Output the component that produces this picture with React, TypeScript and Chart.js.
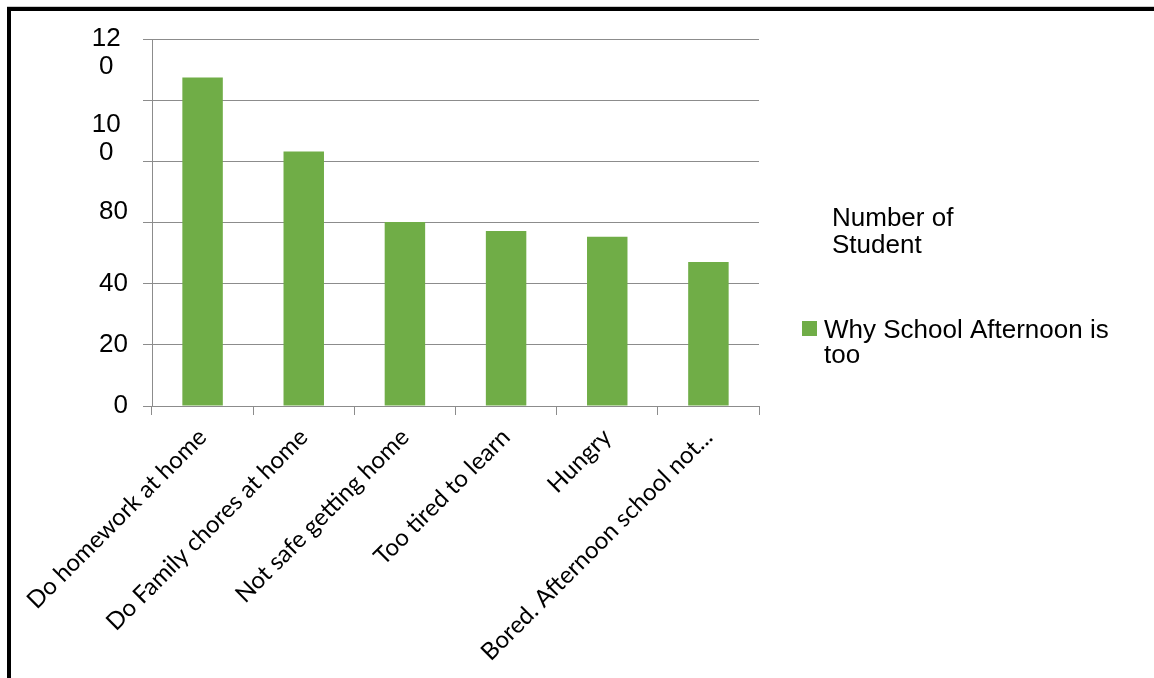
import React, { useEffect, useRef } from "react";
import { Chart, registerables } from "chart.js";

Chart.register(...registerables);

const categories = [
  "Do homework at home",
  "Do Family chores at home",
  "Not safe getting home",
  "Too tired to learn",
  "Hungry",
  "Bored. Afternoon school not...",
];
const seriesValues = [107.4, 83.2, 60.2, 57.2, 55.3, 47.1];
const seriesName = ["Why School Afternoon is", "too"];
const legendTitle = ["Number of", "Student"];

const yGridValues = [0, 20, 40, 60, 80, 100, 120];
const yLabelValues = [0, 20, 40, 63.5, 87.3, 115.5];
const yLabelTexts: (string | string[])[] = ["0", "20", "40", "80", ["10 ", "0  "], ["12 ", "0  "]];

const GREEN = "#70AD47";
const GRID = "#8c8c8c";

const sideLegend = {
  id: "sideLegend",
  afterDraw(chart: any) {
    const { ctx, chartArea } = chart;
    const r = chartArea.right;
    const t = chartArea.top;
    ctx.save();
    ctx.fillStyle = "#000";
    ctx.font = "26px 'Liberation Sans', Arial, sans-serif";
    ctx.textAlign = "left";
    ctx.textBaseline = "alphabetic";
    legendTitle.forEach((line, i) => {
      ctx.fillText(line, r + 73, t + 187 + i * 27);
    });
    ctx.fillStyle = GREEN;
    ctx.fillRect(r + 43, t + 282, 15, 15);
    ctx.fillStyle = "#000";
    seriesName.forEach((line, i) => {
      ctx.fillText(line, r + 65, t + 299 + i * 25);
    });
    ctx.restore();
  },
};

export default function App() {
  const ref = useRef<HTMLCanvasElement>(null);
  useEffect(() => {
    if (!ref.current) return;
    const chart = new Chart(ref.current, {
      type: "bar",
      data: {
        labels: categories,
        datasets: [
          {
            label: seriesName.join(" "),
            data: seriesValues,
            backgroundColor: GREEN,
            borderWidth: 0,
            categoryPercentage: 0.8,
            barPercentage: 0.5,
          },
        ],
      },
      options: {
        responsive: false,
        animation: false,
        layout: { padding: { left: 0, top: 39, right: 395, bottom: 0 } },
        plugins: { legend: { display: false }, tooltip: { enabled: false } },
        scales: {
          x: {
            afterFit: (scale: any) => {
              scale.height = 272;
            },
            grid: {
              display: true,
              drawOnChartArea: false,
              drawTicks: true,
              tickLength: 9,
              color: GRID,
              offset: true,
            },
            border: { display: true, color: GRID, width: 1 },
            ticks: {
              minRotation: 45,
              maxRotation: 45,
              autoSkip: false,
              padding: 8,
              color: "#000",
              font: { family: "Lato, 'Open Sans', sans-serif", size: 24 },
            },
          },
          y: {
            min: 0,
            max: 120,
            afterFit: (scale: any) => {
              scale.width = 152;
            },
            afterBuildTicks: (scale: any) => {
              const vals = Array.from(new Set([...yGridValues, ...yLabelValues])).sort((a, b) => a - b);
              scale.ticks = vals.map((v) => ({ value: v }));
            },
            grid: {
              color: (c: any) =>
                c.tick && yGridValues.includes(c.tick.value) ? GRID : "rgba(0,0,0,0)",
              tickLength: 9,
              drawTicks: true,
            },
            border: { display: true, color: GRID, width: 1 },
            ticks: {
              autoSkip: false,
              padding: 15,
              color: "#000",
              font: { family: "'Liberation Sans', Arial, sans-serif", size: 26, lineHeight: 1.08 },
              callback: (value: any) => {
                const i = yLabelValues.indexOf(Number(value));
                return i >= 0 ? yLabelTexts[i] : "";
              },
            },
          },
        },
      },
      plugins: [sideLegend],
    });
    return () => chart.destroy();
  }, []);

  return (
    <>
      <div
        style={{
          position: "fixed",
          left: 7,
          top: 7,
          right: 0,
          bottom: 0,
          borderTop: "4px solid #000",
          borderLeft: "4px solid #000",
          boxShadow: "0 -1px 0 #cccccc",
          boxSizing: "border-box",
        }}
      />
      <canvas
        ref={ref}
        width={1154}
        height={678}
        style={{ position: "fixed", left: 0, top: 0, width: 1154, height: 678 }}
      />
    </>
  );
}
